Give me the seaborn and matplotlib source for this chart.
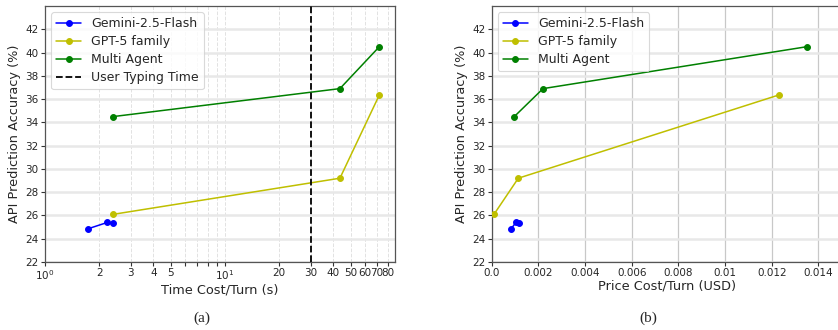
import matplotlib
matplotlib.use("Agg")
import matplotlib.pyplot as plt
import seaborn as sns
import pandas as pd
from matplotlib.ticker import FixedLocator, FixedFormatter

sns.set_theme(style="white")
plt.rcParams['font.family'] = ['DejaVu Sans']

# ---- data ----
series_names = ["Gemini-2.5-Flash", "GPT-5 family", "Multi Agent"]
series_colors = ["#0000ff", "#bfbf00", "#008000"]

gemini_time = [1.73, 2.22, 2.38]
gemini_price = [0.00083, 0.00104, 0.00116]
gemini_acc = [24.85, 25.4, 25.35]

gpt5_time = [2.4, 43.5, 72.0]
gpt5_price = [0.0001, 0.00114, 0.0123]
gpt5_acc = [26.1, 29.2, 36.35]

multi_time = [2.4, 43.5, 72.0]
multi_price = [0.00097, 0.0022, 0.0135]
multi_acc = [34.5, 36.9, 40.5]

user_typing_time = 30

yticks = [22, 24, 26, 28, 30, 32, 34, 36, 38, 40, 42]
time_minor_ticks = [2, 3, 4, 5, 6, 7, 8, 9, 20, 30, 40, 50, 60, 70, 80]
time_minor_labels = ["2", "3", "4", "5", "", "", "", "", "20", "30", "40", "50", "60", "70", "80"]
price_ticks = [0.0, 0.002, 0.004, 0.006, 0.008, 0.010, 0.012, 0.014]
price_labels = ["0.0", "0.002", "0.004", "0.006", "0.008", "0.01", "0.012", "0.014"]

times = [gemini_time, gpt5_time, multi_time]
prices = [gemini_price, gpt5_price, multi_price]
accs = [gemini_acc, gpt5_acc, multi_acc]

W, H = 838, 330
fig = plt.figure(figsize=(W / 100, H / 100), dpi=100)
ax1 = fig.add_axes([45 / W, (H - 262) / H, 350 / W, 256 / H])
ax2 = fig.add_axes([491.7 / W, (H - 262) / H, 350 / W, 256 / H])

TICK_FS = 7.5
LABEL_FS = 9.3
LEG_FS = 9.0

for ax, xs in ((ax1, times), (ax2, prices)):
    for name, col, x, y in zip(series_names, series_colors, xs, accs):
        df = pd.DataFrame({"x": x, "y": y})
        sns.lineplot(data=df, x="x", y="y", ax=ax, color=col, marker="o",
                     markersize=4.2, markeredgecolor=col, linewidth=1.1,
                     sort=False, estimator=None, label=name, zorder=3)
    ax.set_ylim(22, 44)
    ax.set_yticks(yticks)
    ax.set_ylabel("API Prediction Accuracy (%)", fontsize=LABEL_FS, labelpad=3)
    ax.tick_params(axis="both", which="both", labelsize=TICK_FS, length=3,
                   width=0.8, color="#333333", pad=1.5, bottom=True, left=True)
    for s in ax.spines.values():
        s.set_color("#555555")
        s.set_linewidth(0.9)
    ax.yaxis.grid(True, color="#e8e8e8", linewidth=1.8, zorder=0)
    ax.set_axisbelow(True)

# left: log time axis
ax1.axvline(user_typing_time, color="black", linestyle="--", linewidth=1.3,
            label="User Typing Time", zorder=4)
ax1.set_xscale("log")
ax1.set_xlim(1, 88)
ax1.xaxis.set_minor_locator(FixedLocator(time_minor_ticks))
ax1.xaxis.set_minor_formatter(FixedFormatter(time_minor_labels))
ax1.xaxis.grid(True, which="both", color="#e2e2e2", linestyle="--", linewidth=0.7)
ax1.set_xlabel("Time Cost/Turn (s)", fontsize=LABEL_FS, labelpad=1)

# right: price axis
ax2.set_xlim(0, 0.015)
ax2.xaxis.set_major_locator(FixedLocator(price_ticks))
ax2.xaxis.set_major_formatter(FixedFormatter(price_labels))
ax2.xaxis.grid(True, color="#c8c8c8", linewidth=0.9)
ax2.set_xlabel("Price Cost/Turn (USD)", fontsize=LABEL_FS, labelpad=1)

for ax in (ax1, ax2):
    leg = ax.legend(loc="upper left", fontsize=LEG_FS, frameon=True,
                    borderpad=0.4, labelspacing=0.4, handlelength=2.0,
                    bbox_to_anchor=(0.0, 1.0), borderaxespad=0.5)
    leg.get_frame().set_edgecolor("#d0d0d0")
    leg.get_frame().set_linewidth(0.8)

fig.text(201.7 / W, 1 - 318 / H, "(a)", ha="center", va="center",
         fontsize=11, family=["Liberation Serif", "DejaVu Serif"])
fig.text(648.3 / W, 1 - 318 / H, "(b)", ha="center", va="center",
         fontsize=11, family=["Liberation Serif", "DejaVu Serif"])

fig.savefig("out.png", dpi=100)
